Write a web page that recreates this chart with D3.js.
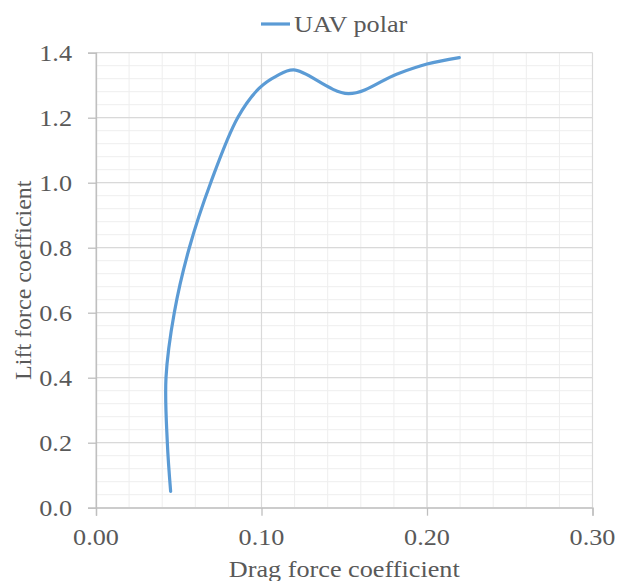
<!DOCTYPE html>
<html>
<head>
<meta charset="utf-8">
<script src="https://cdn.jsdelivr.net/npm/d3@7"></script>
<style>
  body { margin: 0; background: #fff; }
  text { font-family: "Liberation Serif", "Times New Roman", serif; fill: #595959; }
</style>
</head>
<body>
<div id="chart"></div>
<script>
// drag polar of the UAV: Cd against Cl
var dragCoef = [0.0451, 0.0431, 0.0423, 0.0473, 0.0564, 0.0693, 0.0856, 0.0985, 0.1090, 0.1195, 0.1525, 0.1816, 0.2000, 0.2195];
var liftCoef = [0.05, 0.2, 0.4, 0.6, 0.8, 1.0, 1.2, 1.29, 1.328, 1.347, 1.274, 1.334, 1.365, 1.385];
var xTicks = [0, 0.1, 0.2, 0.3];
var yTicks = [0, 0.2, 0.4, 0.6, 0.8, 1.0, 1.2, 1.4];
var seriesName = "UAV polar";

var width = 619;
var height = 581;
var margin = { top: 52.7, right: 26.5, bottom: 73.3, left: 96 };
var stretch = 1.14;   // text is drawn a little wide

var svg = d3.select("#chart")
            .append("svg")
            .attr("width", width)
            .attr("height", height);

var x = d3.scaleLinear().domain([0, 0.3]).range([margin.left, width - margin.right]);
var y = d3.scaleLinear().domain([0, 1.4]).range([height - margin.bottom, margin.top]);

// horizontal text helper, slightly widened
function wideText(g, tx, ty, str, anchor, size) {
    return g.append("text")
            .attr("transform", "translate(" + tx + "," + ty + ") scale(" + stretch + ",1)")
            .attr("text-anchor", anchor)
            .attr("font-size", size)
            .text(str);
}

// minor grid
var xMinor = d3.range(0, 0.3001, 0.02);
var yMinor = d3.range(0, 1.4001, 0.04);
svg.append("g").selectAll("line")
   .data(xMinor).enter().append("line")
   .attr("x1", d => x(d)).attr("x2", d => x(d))
   .attr("y1", y(0)).attr("y2", y(1.4))
   .attr("stroke", "#eeeeee").attr("stroke-width", 1);
svg.append("g").selectAll("line")
   .data(yMinor).enter().append("line")
   .attr("x1", x(0)).attr("x2", x(0.3))
   .attr("y1", d => y(d)).attr("y2", d => y(d))
   .attr("stroke", "#eeeeee").attr("stroke-width", 1);

// major grid
svg.append("g").selectAll("line")
   .data(xTicks).enter().append("line")
   .attr("x1", d => x(d)).attr("x2", d => x(d))
   .attr("y1", y(0)).attr("y2", y(1.4))
   .attr("stroke", "#d9d9d9").attr("stroke-width", 1.2);
svg.append("g").selectAll("line")
   .data(yTicks).enter().append("line")
   .attr("x1", x(0)).attr("x2", x(0.3))
   .attr("y1", d => y(d)).attr("y2", d => y(d))
   .attr("stroke", "#d9d9d9").attr("stroke-width", 1.2);

// axes
var xAxis = svg.append("g")
               .attr("transform", "translate(0," + y(0) + ")")
               .call(d3.axisBottom(x).tickValues(xTicks).tickSize(8).tickFormat(""));
var yAxis = svg.append("g")
               .attr("transform", "translate(" + x(0) + ",0)")
               .call(d3.axisLeft(y).tickValues(yTicks).tickSize(8).tickFormat(""));
[xAxis, yAxis].forEach(function(a) {
    a.select(".domain").attr("stroke", "#bfbfbf").attr("stroke-width", 1.3);
    a.selectAll(".tick line").attr("stroke", "#bfbfbf").attr("stroke-width", 1.3);
});

// tick labels
var labels = svg.append("g");
xTicks.forEach(function(d) {
    wideText(labels, x(d), y(0) + 37, d3.format(".2f")(d), "middle", 23);
});
yTicks.forEach(function(d) {
    wideText(labels, x(0) - 24, y(d) + 8, d3.format(".1f")(d), "end", 23);
});

// axis titles
wideText(svg, (x(0) + x(0.3)) / 2, 577, "Drag force coefficient", "middle", 23);
svg.append("text")
   .attr("transform", "translate(31," + (y(0) + y(1.4)) / 2 + ") rotate(-90)")
   .attr("text-anchor", "middle")
   .attr("font-size", 24)
   .text("Lift force coefficient");

// polar curve
var points = dragCoef.map((d, i) => [d, liftCoef[i]]);
var line = d3.line()
             .x(d => x(d[0]))
             .y(d => y(d[1]))
             .curve(d3.curveCatmullRom.alpha(0.5));

svg.append("path")
   .datum(points)
   .attr("d", line)
   .attr("fill", "none")
   .attr("stroke", "#5b9bd5")
   .attr("stroke-width", 3.2)
   .attr("stroke-linecap", "round");

// legend
var legend = svg.append("g");
legend.append("line")
      .attr("x1", 261).attr("x2", 290)
      .attr("y1", 24).attr("y2", 24)
      .attr("stroke", "#5b9bd5")
      .attr("stroke-width", 3.2);
wideText(legend, 294, 32, seriesName, "start", 23);
</script>
</body>
</html>
